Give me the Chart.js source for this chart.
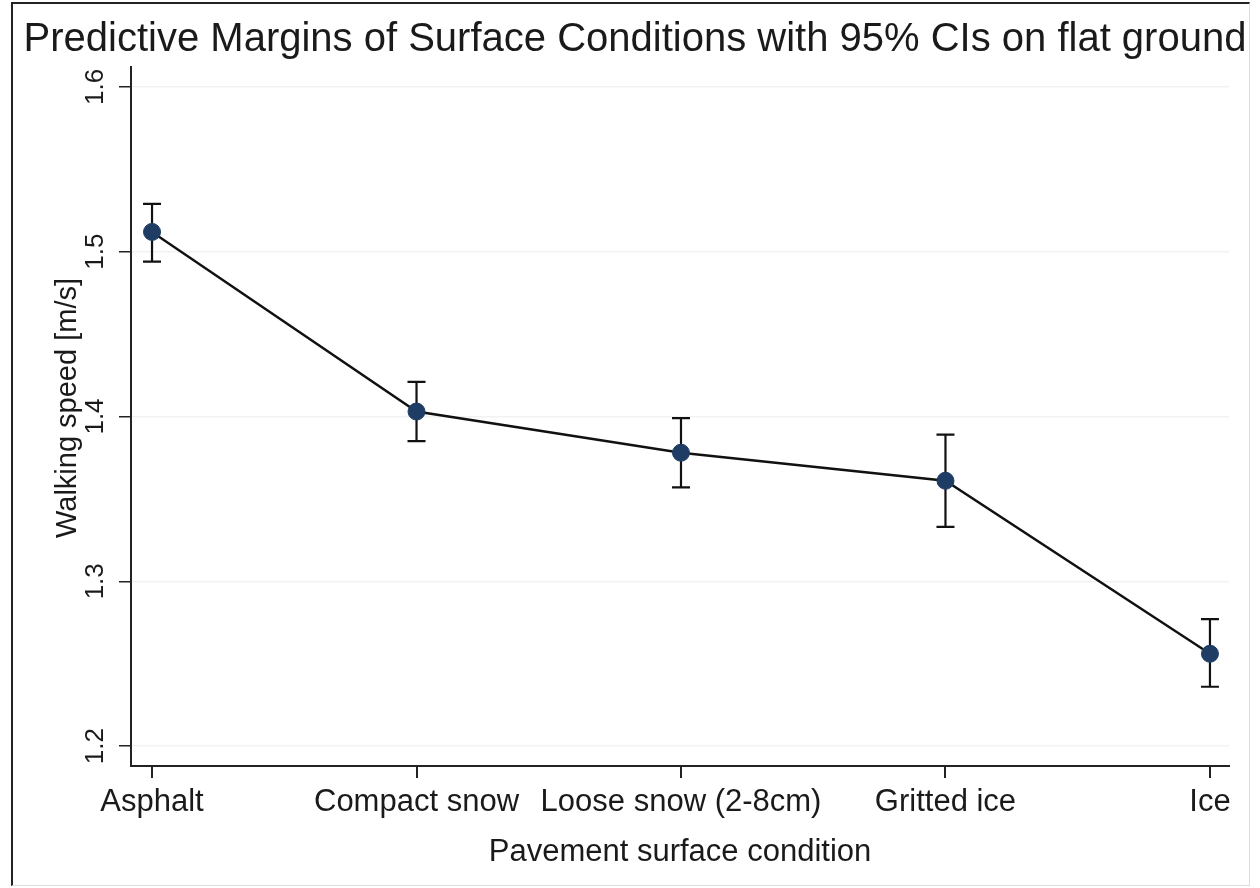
<!DOCTYPE html>
<html>
<head>
<meta charset="utf-8">
<title>Predictive Margins of Surface Conditions</title>
<script src="https://cdn.jsdelivr.net/npm/chart.js@4/dist/chart.umd.min.js"></script>
<style>
  html, body { margin: 0; padding: 0; background: #fff; }
  #wrap { position: relative; width: 1260px; height: 888px; }
  #frame {
    position: absolute; left: 11px; top: 2px; width: 1236px; height: 881px;
    border-left: 2px solid #222; border-top: 2px solid #222;
    border-right: 1px solid #ddd; border-bottom: 1px solid #ddd;
    pointer-events: none;
  }
  canvas { position: absolute; left: 0; top: 0; }
</style>
</head>
<body>
<div id="wrap">
  <canvas id="marginsChart" width="1260" height="888"></canvas>
  <div id="frame"></div>
</div>
<script>
/* ── Datos ── */
var categories = ['Asphalt', 'Compact snow', 'Loose snow (2-8cm)', 'Gritted ice', 'Ice'];
var margins    = [1.512, 1.403, 1.378, 1.361, 1.256];
var ciLow      = [1.494, 1.385, 1.357, 1.333, 1.236];
var ciHigh     = [1.529, 1.421, 1.399, 1.389, 1.277];
var yTicks     = [1.2, 1.3, 1.4, 1.5, 1.6];

var chartTitle = 'Predictive Margins of Surface Conditions with 95% CIs on flat ground';
var FONT = '"Liberation Sans", Arial, sans-serif';
var INK  = '#1a1a1a';

/* Barras de error, título y etiquetas verticales del eje Y */
var stataExtras = {
  id: 'stataExtras',
  beforeDatasetsDraw: function(chart) {
    var ctx = chart.ctx, xs = chart.scales.x, ys = chart.scales.y;
    ctx.save();
    ctx.strokeStyle = '#111';
    ctx.lineWidth = 2.2;
    for (var i = 0; i < margins.length; i++) {
      var px = xs.getPixelForValue(i);
      var top = ys.getPixelForValue(ciHigh[i]);
      var bot = ys.getPixelForValue(ciLow[i]);
      ctx.beginPath();
      ctx.moveTo(px, top); ctx.lineTo(px, bot);
      ctx.moveTo(px - 9, top); ctx.lineTo(px + 9, top);
      ctx.moveTo(px - 9, bot); ctx.lineTo(px + 9, bot);
      ctx.stroke();
    }
    ctx.restore();
  },
  afterDraw: function(chart) {
    var ctx = chart.ctx, ys = chart.scales.y;
    ctx.save();
    ctx.fillStyle = INK;
    ctx.textAlign = 'center';
    ctx.textBaseline = 'middle';
    /* título */
    ctx.font = '40px ' + FONT;
    ctx.fillText(chartTitle, 635, 40);
    /* etiquetas de ticks rotadas */
    ctx.font = '26px ' + FONT;
    yTicks.forEach(function(v) {
      ctx.save();
      ctx.translate(96, ys.getPixelForValue(v));
      ctx.rotate(-Math.PI / 2);
      ctx.fillText(v.toFixed(1), 0, 0);
      ctx.restore();
    });
    /* título del eje Y */
    ctx.font = '29px ' + FONT;
    ctx.translate(68, 408);
    ctx.rotate(-Math.PI / 2);
    ctx.fillText('Walking speed [m/s]', 0, 0);
    ctx.restore();
  }
};

new Chart(document.getElementById('marginsChart').getContext('2d'), {
  type: 'line',
  data: {
    datasets: [{
      label: 'Predictive margin',
      data: margins.map(function(v, i) { return { x: i, y: v }; }),
      borderColor: '#111',
      borderWidth: 2.4,
      tension: 0,
      pointRadius: 8.5,
      pointBackgroundColor: '#1e3c64',
      pointBorderColor: '#1e3c64',
      pointBorderWidth: 1
    }]
  },
  options: {
    responsive: false,
    animation: false,
    layout: { padding: { left: 0, right: 31, top: 67, bottom: 0 } },
    plugins: {
      legend: { display: false },
      tooltip: { enabled: false },
      title: { display: false }
    },
    scales: {
      x: {
        type: 'linear',
        min: -0.0795,
        max: 4.072,
        afterBuildTicks: function(scale) {
          scale.ticks = categories.map(function(_, i) { return { value: i }; });
        },
        afterFit: function(scale) { scale.height = 122; },
        ticks: {
          color: INK,
          font: { family: FONT, size: 31 },
          padding: 6,
          maxRotation: 0,
          autoSkip: false,
          callback: function(v) { return categories[v]; }
        },
        grid: { drawOnChartArea: false, drawTicks: true, tickLength: 12, tickColor: '#222', lineWidth: 2 },
        border: { display: true, color: '#222', width: 2 },
        title: {
          display: true,
          text: 'Pavement surface condition',
          color: INK,
          font: { family: FONT, size: 31 },
          padding: { top: 0, bottom: 17 }
        }
      },
      y: {
        min: 1.1879,
        max: 1.6121,
        afterBuildTicks: function(scale) {
          scale.ticks = yTicks.map(function(v) { return { value: v }; });
        },
        afterFit: function(scale) { scale.width = 131; },
        ticks: { display: false },
        grid: {
          color: 'rgba(0,0,0,0.05)',
          lineWidth: 1.5,
          drawTicks: true,
          tickLength: 12,
          tickColor: '#222'
        },
        border: { display: true, color: '#222', width: 2 }
      }
    }
  },
  plugins: [stataExtras]
});
</script>
</body>
</html>
